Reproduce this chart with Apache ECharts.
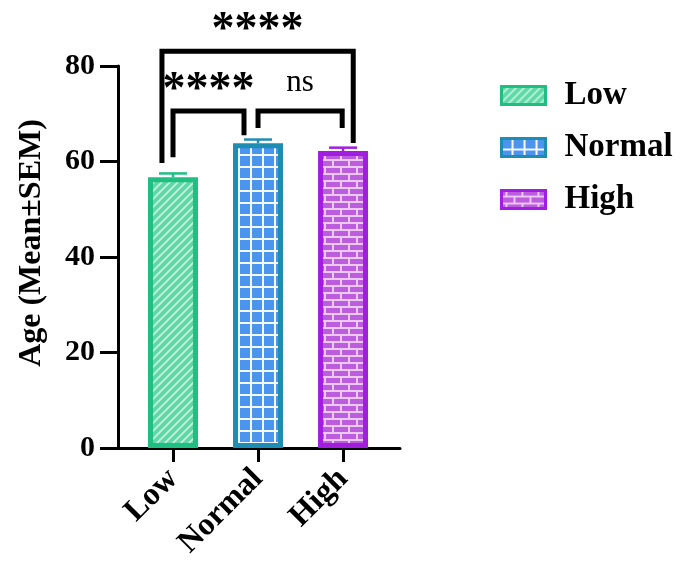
<!DOCTYPE html>
<html><head><meta charset="utf-8">
<script src="https://cdn.jsdelivr.net/npm/echarts@6/dist/echarts.min.js"></script>
<style>html,body{margin:0;padding:0;background:#fff;}#c{width:680px;height:563px;}</style>
</head><body><div id="c"></div>
<script>
// ---- data ----
const categories = ['Low', 'Normal', 'High'];
const means = [56.7, 63.8, 62.2];
const sems = [0.8, 0.8, 0.7];
const yMin = 0, yMax = 80, yStep = 20;
const yAxisTitle = 'Age (Mean±SEM)';
// significance brackets (x in category units, y in data units)
const bracketFrom = [-0.13, 0.0, 1.0];
const bracketTo = [2.12, 0.835, 1.99];
const bracketTop = [83.1, 70.6, 70.6];
const bracketLeftEnd = [59.7, 60.9, 67.0];
const bracketRightEnd = [63.9, 65.5, 67.0];
const bracketLabels = ['****', '****', 'ns'];

// ---- styles ----
const borderColors = ['#1fbf82', '#1e8db4', '#a21de0'];
const SERIF = '"Liberation Serif","Times New Roman",serif';

function mkCanvas(w, h, draw) {
  const c = document.createElement('canvas'); c.width = w; c.height = h;
  draw(c.getContext('2d'), w, h); return c;
}
const patLow = mkCanvas(8, 8, (g, w, h) => {
  g.fillStyle = '#5fd8a8'; g.fillRect(0, 0, w, h);
  g.strokeStyle = '#c2f3dc'; g.lineWidth = 1.8;
  g.beginPath();
  g.moveTo(-2, h + 2); g.lineTo(w + 2, -2);
  g.moveTo(-2, 2); g.lineTo(2, -2);
  g.moveTo(w - 2, h + 2); g.lineTo(w + 2, h - 2);
  g.stroke();
});
const patNormal = mkCanvas(12, 12, (g, w, h) => {
  g.fillStyle = '#4b95ef'; g.fillRect(0, 0, w, h);
  g.fillStyle = '#f4f8ff';
  g.fillRect(0, 10, w, 2); g.fillRect(10, 0, 2, h);
});
const patHigh = mkCanvas(16, 14, (g, w, h) => {
  g.fillStyle = '#bb5ddd'; g.fillRect(0, 0, w, h);
  g.fillStyle = '#ecc8f5';
  g.fillRect(0, 5, w, 2); g.fillRect(0, 12, w, 2);
  g.fillRect(4, 0, 2, 5); g.fillRect(12, 7, 2, 5);
});
const patterns = [patLow, patNormal, patHigh];

const barSeries = categories.map((name, i) => ({
  name: name,
  type: 'bar',
  barWidth: 50,
  barGap: '-100%',
  data: [[i, means[i]]],
  itemStyle: {
    color: { image: patterns[i], repeat: 'repeat' },
    borderColor: borderColors[i],
    borderWidth: 5
  },
  z: 2
}));

const errorSeries = {
  name: 'err',
  type: 'custom',
  data: categories.map((c, i) => [i, means[i], means[i] + sems[i]]),
  encode: { x: 0, y: [1, 2] },
  z: 3,
  renderItem: function (params, api) {
    const x = api.value(0);
    const p0 = api.coord([x, api.value(1)]);
    const p1 = api.coord([x, api.value(2)]);
    const col = borderColors[params.dataIndex];
    const half = 14;
    return {
      type: 'group', children: [
        { type: 'line', shape: { x1: p0[0], y1: p0[1], x2: p1[0], y2: p1[1] }, style: { stroke: col, lineWidth: 2.5 } },
        { type: 'line', shape: { x1: p1[0] - half, y1: p1[1], x2: p1[0] + half, y2: p1[1] }, style: { stroke: col, lineWidth: 2.5 } }
      ]
    };
  }
};

const bracketSeries = {
  name: 'sig',
  type: 'custom',
  data: bracketFrom.map((f, i) => [f, bracketTo[i], bracketTop[i], bracketLeftEnd[i], bracketRightEnd[i]]),
  encode: { x: [0, 1], y: [2, 3, 4] },
  z: 4,
  clip: false,
  renderItem: function (params, api) {
    const x1 = api.value(0), x2 = api.value(1);
    const a = api.coord([x1, api.value(3)]);
    const b = api.coord([x1, api.value(2)]);
    const c = api.coord([x2, api.value(2)]);
    const d = api.coord([x2, api.value(4)]);
    const lbl = bracketLabels[params.dataIndex];
    const isStar = lbl.indexOf('*') >= 0;
    return {
      type: 'group', children: [
        { type: 'polyline', shape: { points: [a, b, c, d] }, style: { stroke: '#000', lineWidth: 5, fill: null, lineJoin: 'miter', lineCap: 'butt' } },
        { type: 'text', x: (b[0] + c[0]) / 2, y: b[1] - (isStar ? 20 : 28),
          style: { text: lbl, fill: '#000', align: 'center', verticalAlign: 'middle',
                   font: isStar ? 'bold 46px ' + SERIF : 'normal 31px ' + SERIF } }
      ]
    };
  }
};

const chart = echarts.init(document.getElementById('c'), null, { renderer: 'canvas' });
chart.setOption({
  animation: false,
  backgroundColor: '#fff',
  grid: { left: 118, right: 280, top: 66, bottom: 115, containLabel: false },
  legend: {
    orient: 'vertical',
    left: 495, top: 74,
    itemWidth: 44, itemHeight: 18,
    itemGap: 19,
    icon: 'rect',
    data: categories,
    itemStyle: { borderWidth: 3 },
    textStyle: { fontFamily: SERIF, fontWeight: 'bold', fontSize: 33, color: '#000', lineHeight: 33, padding: [0, 0, 0, 14] }
  },
  xAxis: {
    type: 'value',
    min: -0.647, max: 2.67,
    splitLine: { show: false },
    axisLine: { show: true, onZero: false, lineStyle: { color: '#000', width: 3 } },
    axisTick: { show: true, length: 14, lineStyle: { color: '#000', width: 3 }, customValues: [0, 1, 2] },
    axisLabel: {
      customValues: [0, 1, 2],
      rotate: 45, margin: 26,
      formatter: v => categories[Math.round(v)],
      fontFamily: SERIF, fontWeight: 'bold', fontSize: 32, color: '#000'
    }
  },
  yAxis: {
    type: 'value',
    min: yMin, max: yMax, interval: yStep,
    name: yAxisTitle,
    nameLocation: 'middle',
    nameGap: 70,
    nameTextStyle: { fontFamily: SERIF, fontWeight: 'bold', fontSize: 32, color: '#000', padding: [0, 0, 0, 28] },
    splitLine: { show: false },
    axisLine: { show: true, onZero: false, lineStyle: { color: '#000', width: 3 } },
    axisTick: { show: true, length: 18, lineStyle: { color: '#000', width: 3 } },
    axisLabel: { margin: 23, fontFamily: SERIF, fontWeight: 'bold', fontSize: 30, color: '#000' }
  },
  series: barSeries.concat([errorSeries, bracketSeries])
});
</script></body></html>
